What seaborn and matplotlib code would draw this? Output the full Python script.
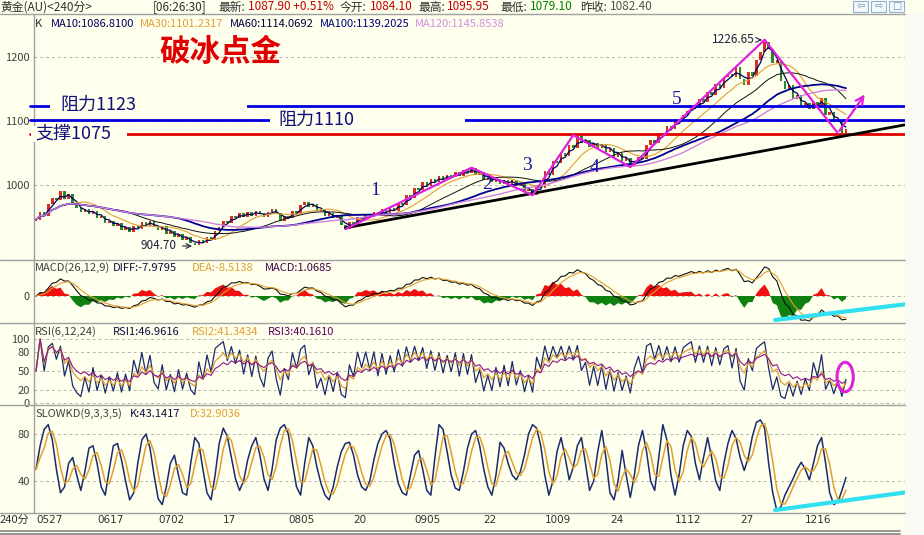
import numpy as np
import pandas as pd
import matplotlib
matplotlib.use('Agg')
import matplotlib.pyplot as plt
from matplotlib.patches import Ellipse, Rectangle
from matplotlib.lines import Line2D
import seaborn as sns

# 收盘价(每根约合原图3根240分钟K线)
closes = [
    946, 958, 952, 970, 980, 976, 990, 978, 986, 972,
    964, 958, 962, 954, 960, 948, 952, 940, 944, 936,
    940, 930, 934, 926, 936, 932, 942, 936, 944, 934,
    930, 936, 924, 928, 918, 924, 914, 918, 910, 906,
    914, 909, 918, 914, 928, 934, 944, 940, 952, 948,
    956, 950, 958, 952, 960, 954, 950, 958, 962, 956,
    944, 952, 948, 960, 956, 968, 974, 966, 970, 960,
    962, 952, 956, 948, 952, 938, 932, 942, 938, 950,
    946, 954, 950, 958, 952, 962, 956, 964, 960, 972,
    968, 984, 980, 996, 992, 1004, 998, 1010, 1004, 1014,
    1008, 1016, 1012, 1020, 1014, 1024, 1018, 1027, 1016, 1020,
    1008, 1012, 1004, 1010, 1002, 1008, 1000, 1008, 998, 1002,
    990, 994, 984, 1000, 996, 1022, 1016, 1038, 1034, 1050,
    1046, 1062, 1058, 1076, 1066, 1070, 1060, 1066, 1058, 1064,
    1052, 1058, 1044, 1050, 1038, 1042, 1030, 1038, 1044, 1040,
    1062, 1070, 1066, 1082, 1078, 1092, 1088, 1102, 1098, 1110,
    1116, 1124, 1120, 1134, 1130, 1146, 1140, 1158, 1152, 1168,
    1174, 1168, 1184, 1166, 1156, 1176, 1170, 1196, 1208, 1224,
    1212, 1190, 1196, 1162, 1150, 1156, 1134, 1140, 1122, 1128,
    1118, 1130, 1124, 1136, 1110, 1114, 1098, 1102, 1082, 1088,
]

# SLOWKD 的 K 值
kd_k = [
    50, 70, 84, 88, 75, 50, 30, 35, 55, 60,
    45, 32, 48, 68, 70, 55, 35, 28, 50, 70,
    72, 58, 40, 24, 30, 55, 75, 80, 68, 45,
    25, 20, 35, 55, 62, 45, 30, 28, 55, 77,
    72, 50, 30, 24, 45, 72, 85, 78, 60, 42,
    32, 40, 58, 70, 77, 62, 42, 32, 50, 75,
    85, 88, 80, 55, 35, 28, 55, 77, 70, 52,
    38, 28, 24, 35, 52, 65, 72, 73, 62, 45,
    35, 32, 40, 58, 72, 80, 83, 76, 55, 38,
    30, 28, 45, 62, 66, 50, 32, 28, 60, 88,
    84, 65, 45, 34, 32, 48, 68, 80, 83, 70,
    50, 35, 28, 45, 73, 68, 55, 45, 41, 48,
    62, 80, 88, 85, 70, 45, 28, 40, 65, 77,
    60, 41, 52, 70, 77, 55, 32, 40, 65, 83,
    60, 30, 24, 40, 66, 45, 26, 45, 70, 83,
    65, 40, 32, 60, 88, 75, 45, 28, 45, 70,
    83, 78, 55, 41, 60, 77, 60, 40, 32, 55,
    72, 83, 76, 60, 49, 60, 78, 90, 92, 85,
    55, 30, 15, 18, 28, 35, 42, 50, 56, 50,
    41, 55, 70, 77, 55, 30, 20, 22, 32, 43,
]

# 画线: 压力/支撑, 波浪折线, 趋势线
level_values = [1123, 1102, 1080]
level_labels = ['阻力1123', '阻力1110', '支撑1075']
wave_x = [76, 107, 122, 132, 146, 179, 197]
wave_y = [931, 1027, 984, 1078, 1028, 1227, 1081]
wave_tip = (204, 1145)
wave_nums = ['1', '2', '3', '4', '5']
wave_num_x = [83.3, 110.8, 120.6, 137.1, 157.5]
wave_num_y = [992, 1000, 1031, 1027, 1133]
trend_x = [76, 213.5]
trend_y = [933, 1094]
high_mark = (179, 1226.65)
low_mark = (39, 904.70)

quote_names = ['最新:', '今开:', '最高:', '最低:', '昨收:']
quote_vals = ['1087.90 +0.51%', '1084.10', '1095.95', '1079.10', '1082.40']
ma_names = ['MA10', 'MA30', 'MA60', 'MA100', 'MA120']
ma_vals = ['1086.8100', '1101.2317', '1114.0692', '1139.2025', '1145.8538']
ma_periods = [3, 10, 20, 33, 40]
rsi_periods = [2, 5, 10]
date_pos = [0, 15, 30, 46, 62, 78, 93, 110, 125, 141, 157, 173, 189]
date_labels = ['0527', '0617', '0702', '17', '0805', '20', '0905', '22', '1009', '24', '1112', '27', '1216']

sns.set_theme(style='white')
plt.rcParams['font.family'] = ['Noto Sans CJK SC', 'DejaVu Sans']
plt.rcParams['axes.unicode_minus'] = False

W, H = 924, 535
BG = '#FFFFEE'
GRID = '#B4B4B4'
EDGE = '#A0A0A0'


def fx(x):
    return x / W


def fy(y):
    return 1 - y / H


fig = plt.figure(figsize=(W / 100, H / 100), dpi=100, facecolor=BG)
fig.patches.append(Rectangle((fx(905), 0), 19 / W, fy(14), transform=fig.transFigure,
                             facecolor='#FAFAF4', edgecolor='none', zorder=0))


def panel(top, bottom, ylim, ticks, labels):
    ax = fig.add_axes([fx(34), fy(bottom), 871 / W, (bottom - top) / H])
    ax.set_facecolor(BG)
    ax.set_xlim(-0.5, 213.5)
    ax.set_ylim(*ylim)
    for s in ['top', 'right', 'bottom']:
        ax.spines[s].set_visible(False)
    ax.spines['left'].set_color(EDGE)
    ax.spines['left'].set_linewidth(1)
    ax.set_xticks([])
    ax.set_yticks(ticks)
    ax.set_yticklabels(labels)
    ax.tick_params(axis='y', length=0, pad=3, labelsize=8, labelcolor='#404040')
    for t in ticks:
        ax.axhline(t, color=GRID, lw=0.7, ls=(0, (3, 3)), zorder=0)
    return ax


n = len(closes)
idx = np.arange(n)
close = pd.Series(closes, dtype=float)
opn = close.shift(1).fillna(944.0)

# ---------- 主图 ----------
ax = panel(15, 260, (882.8, 1265.6), [1000, 1100, 1200], ['1000', '1100', '1200'])
lo = np.minimum(opn, close)
body = np.maximum(np.abs(close - opn), 0.8)
cols = np.where(close >= opn, '#D83020', '#2A8A2A')
ax.bar(idx, body, bottom=lo, width=0.62, color=cols, zorder=2, linewidth=0)

ma_colors = ['#000060', '#E0A030', '#101010', '#000090', '#D080E0']
ma_widths = [0.9, 0.8, 0.7, 1.3, 1.0]
for p, c, lw in zip(ma_periods, ma_colors, ma_widths):
    sns.lineplot(x=idx, y=close.rolling(p, min_periods=1).mean().values, ax=ax,
                 color=c, lw=lw, zorder=3, legend=False)

for v, c in zip(level_values, ['#0000E0', '#0000E0', '#E00000']):
    ax.plot([-1.5, 213.5], [v, v], color=c, lw=2, clip_on=False, zorder=4)

# 文字遮挡框
for x0, x1, y in [(50, 247, 105), (270, 465, 120), (31, 127, 134)]:
    fig.patches.append(Rectangle((fx(x0), fy(y + 8)), (x1 - x0) / W, 16 / H,
                                 transform=fig.transFigure, facecolor=BG,
                                 edgecolor='none', zorder=5))
for (x, y), s in zip([(60, 105), (278, 120), (35, 134)], level_labels):
    fig.text(fx(x), fy(y), s, color='#10107A', fontsize=13, ha='left', va='center', zorder=6)

ax.plot(trend_x, trend_y, color='black', lw=2, zorder=5, clip_on=False)
ax.plot(wave_x, wave_y, color='#E020E0', lw=1.6, zorder=6)
ax.annotate('', xy=wave_tip, xytext=(wave_x[-1], wave_y[-1]),
            arrowprops=dict(arrowstyle='->', color='#E020E0', lw=1.6, mutation_scale=14), zorder=6)
for s, x, y in zip(wave_nums, wave_num_x, wave_num_y):
    ax.text(x, y, s, color='#1818A0', fontsize=14, family='Liberation Serif',
            ha='center', va='center', zorder=7)

ax.annotate(f'{high_mark[1]:.2f}', xy=high_mark, xytext=(high_mark[0] - 2.5, high_mark[1]),
            ha='right', va='center', fontsize=8.5, color='#202040',
            arrowprops=dict(arrowstyle='->', color='#202040', lw=0.8))
ax.annotate(f'{low_mark[1]:.2f}', xy=low_mark, xytext=(low_mark[0] - 4.5, low_mark[1]),
            ha='right', va='center', fontsize=8.5, color='#202040',
            arrowprops=dict(arrowstyle='->', color='#202040', lw=0.8))

fig.text(fx(220), fy(52), '破冰点金', color='#E00000', fontsize=22, fontweight='bold',
         ha='center', va='center')

# ---------- MACD ----------
ema_f = close.ewm(span=5, adjust=False).mean()
ema_s = close.ewm(span=11, adjust=False).mean()
diff = ema_f - ema_s
dea = diff.ewm(span=4, adjust=False).mean()
hist = 2 * (diff - dea)
top = max(diff.max(), dea.max(), hist.max())
bot = -min(diff.min(), dea.min(), hist.min())
lim = max(top, bot * 36 / 27) * 1.08
axm = panel(260, 323, (-lim * 27 / 36, lim), [0], ['0'])
axm.fill_between(idx, 0, hist, where=hist >= 0, color='#F01010', interpolate=True, lw=0, zorder=2)
axm.fill_between(idx, 0, hist, where=hist < 0, color='#108010', interpolate=True, lw=0, zorder=2)
sns.lineplot(x=idx, y=diff.values, ax=axm, color='#101010', lw=0.8, zorder=3, legend=False)
sns.lineplot(x=idx, y=dea.values, ax=axm, color='#E0A030', lw=0.8, zorder=3, legend=False)
axm.plot([181.6, 214], [0.048, 0.30], color='#30E0F0', lw=3, zorder=4, clip_on=False,
         transform=axm.get_xaxis_transform())


# ---------- RSI ----------
def rsi(s, p):
    d = s.diff().fillna(0)
    up = d.clip(lower=0).ewm(alpha=1 / p, adjust=False).mean()
    dn = d.abs().ewm(alpha=1 / p, adjust=False).mean()
    return (100 * up / dn.replace(0, np.nan)).fillna(50)


axr = panel(323, 405, (-3.1, 125), [0, 20, 50, 80, 100], ['0', '20', '50', '80', '100'])
for p, c, lw in zip(rsi_periods, ['#1A2A6A', '#E0A030', '#8A1A8A'], [0.9, 0.9, 0.8]):
    sns.lineplot(x=idx, y=rsi(close, p).values, ax=axr, color=c, lw=lw, zorder=3, legend=False)
axr.add_patch(Ellipse((198.8, 40.6), 4.0, 46, facecolor='none', edgecolor='#E020E0', lw=2.2, zorder=5))

# ---------- SLOWKD ----------
k = pd.Series(kd_k, dtype=float)
d = k.rolling(3, min_periods=1).mean()
axk = panel(405, 513, (12.8, 104.7), [40, 80], ['40', '80'])
sns.lineplot(x=idx, y=k.values, ax=axk, color='#1A2A6A', lw=1.1, zorder=3, legend=False)
sns.lineplot(x=idx, y=d.values, ax=axk, color='#E0A030', lw=1.1, zorder=3, legend=False)
axk.plot([181.6, 214.2], [15.3, 30.6], color='#30E0F0', lw=3, zorder=4, clip_on=False)

for p, s in zip(date_pos, date_labels):
    axk.text(p, -0.065, s, transform=axk.get_xaxis_transform(), ha='left', va='center',
             fontsize=7.5, color='#303030', family='DejaVu Sans')
fig.text(fx(0), fy(520), '240分', fontsize=8, color='#303030', ha='left', va='center')

# ---------- 分隔线 ----------
for y in [14, 260, 323, 405, 513]:
    fig.add_artist(Line2D([0, fx(905)], [fy(y), fy(y)], color=EDGE, lw=1))
for y in [530.5, 533.5]:
    fig.add_artist(Line2D([0, fx(900)], [fy(y), fy(y)], color='#8C8C8C', lw=1.3))

# ---------- 顶部文字 ----------
fig.text(fx(0), fy(7), '黄金(AU)<240分>', fontsize=8.5, color='#303030', ha='left', va='center')
fig.text(fx(153), fy(7), '[06:26:30]', fontsize=8.5, color='#303030', ha='left', va='center')
val_colors = ['#C00000', '#C00000', '#C00000', '#008000', '#505050']
for nm, v, xn, xv, c in zip(quote_names, quote_vals, [218, 340, 418, 500, 580],
                            [248, 370, 447, 530, 610], val_colors):
    fig.text(fx(xn), fy(7), nm, fontsize=8.5, color='#303030', ha='left', va='center')
    fig.text(fx(xv), fy(7), v, fontsize=8.5, color=c, ha='left', va='center')
for i, xb in enumerate([853, 871, 889]):
    fig.patches.append(Rectangle((fx(xb), fy(12)), 15 / W, 11 / H, transform=fig.transFigure,
                                 facecolor='#F4F8FC', edgecolor='#90B0D0', lw=0.8))
    fig.text(fx(xb + 7.5), fy(6.5), ['⇦', '⇨', '□'][i], fontsize=7, color='#7090C0',
             ha='center', va='center', family='DejaVu Sans')

fig.text(fx(35), fy(24), 'K', fontsize=8, color='#303030', ha='left', va='center')
for nm, v, x, c in zip(ma_names, ma_vals, [51, 140, 230, 320, 415],
                       ['#000060', '#E0A030', '#000040', '#000080', '#D090E0']):
    fig.text(fx(x), fy(24), f'{nm}:{v}', fontsize=8, color=c, ha='left', va='center')

fig.text(fx(35), fy(268), 'MACD(26,12,9)', fontsize=8, color='#404040', ha='left', va='center')
fig.text(fx(113), fy(268), 'DIFF:-7.9795', fontsize=8, color='#101040', ha='left', va='center')
fig.text(fx(192), fy(268), 'DEA:-8.5138', fontsize=8, color='#E0A030', ha='left', va='center')
fig.text(fx(265), fy(268), 'MACD:1.0685', fontsize=8, color='#400040', ha='left', va='center')

fig.text(fx(35), fy(332), 'RSI(6,12,24)', fontsize=8, color='#404040', ha='left', va='center')
fig.text(fx(113), fy(332), 'RSI1:46.9616', fontsize=8, color='#101040', ha='left', va='center')
fig.text(fx(192), fy(332), 'RSI2:41.3434', fontsize=8, color='#E0A030', ha='left', va='center')
fig.text(fx(268), fy(332), 'RSI3:40.1610', fontsize=8, color='#600060', ha='left', va='center')

fig.text(fx(35), fy(414), 'SLOWKD(9,3,3,5)', fontsize=8, color='#404040', ha='left', va='center')
fig.text(fx(130), fy(414), 'K:43.1417', fontsize=8, color='#101040', ha='left', va='center')
fig.text(fx(190), fy(414), 'D:32.9036', fontsize=8, color='#E0A030', ha='left', va='center')

fig.savefig('out.png', dpi=100, facecolor=BG)
